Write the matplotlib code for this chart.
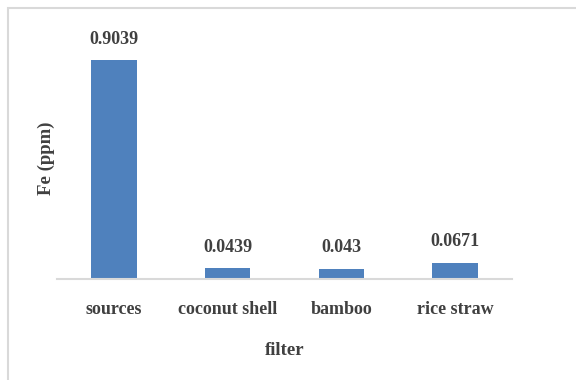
import matplotlib.pyplot as plt
from matplotlib.patches import Rectangle

filters = ["sources", "coconut shell", "bamboo", "rice straw"]
fe_ppm = [0.9039, 0.0439, 0.043, 0.0671]
value_labels = ["0.9039", "0.0439", "0.043", "0.0671"]

plt.rcParams["font.family"] = ["Liberation Serif", "DejaVu Serif"]
plt.rcParams["font.weight"] = "bold"
text_color = "#404040"

fig = plt.figure(figsize=(5.76, 3.80), dpi=100)
ax = fig.add_axes([57 / 576, 1 - 279 / 380, 455 / 576, 242 / 380])

x = range(len(filters))
bars = ax.bar(x, fe_ppm, width=0.4, color="#4f81bd")
for b, lab in zip(bars, value_labels):
    ax.annotate(lab, (b.get_x() + b.get_width() / 2, b.get_height()),
                xytext=(0, 9), textcoords="offset points",
                ha="center", va="bottom", fontsize=13,
                fontweight="bold", color=text_color)

ax.set_xlim(-0.5, 3.5)
ax.set_ylim(0, 1.0)
ax.set_xticks(list(x))
ax.set_xticklabels(filters, fontsize=13, fontweight="bold", color=text_color)
ax.tick_params(axis="x", length=0, pad=16)
ax.set_yticks([])
for side in ["top", "right", "left"]:
    ax.spines[side].set_visible(False)
ax.spines["bottom"].set_color("#d9d9d9")
ax.spines["bottom"].set_linewidth(1.5)

ax.set_xlabel("filter", fontsize=13.5, fontweight="bold", color=text_color, labelpad=17)
ax.set_ylabel("Fe (ppm)", fontsize=13.5, fontweight="bold", color=text_color)
ax.yaxis.set_label_coords(-0.005, 0.5)

# chart area frame
fig.patches.append(Rectangle((8 / 576, -0.1), 1.2, 1.1 - 8 / 380,
                             transform=fig.transFigure, fill=False,
                             edgecolor="#d9d9d9", linewidth=1.5))

fig.savefig("out.png", dpi=100)
